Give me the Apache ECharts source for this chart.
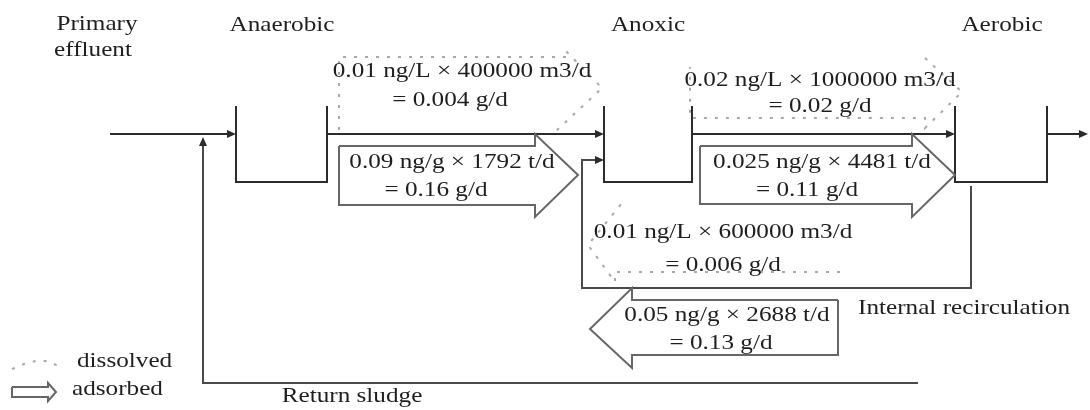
<!DOCTYPE html>
<html>
<head>
<meta charset="utf-8">
<script src="https://cdn.jsdelivr.net/npm/echarts@6/dist/echarts.min.js"></script>
<style>
  html, body { margin: 0; padding: 0; background: #fff; }
  #main { width: 1090px; height: 410px; }
</style>
</head>
<body>
<div id="main"></div>
<script>
// --- data: mass flows of the compound through the A2O line ---
var stages = ['Anaerobic', 'Anoxic', 'Aerobic'];
var dissolvedConc = ['0.01', '0.02', '0.01'];          // ng/L
var waterFlow = ['400000', '1000000', '600000'];       // m3/d
var dissolvedLoad = ['0.004', '0.02', '0.006'];        // g/d
var adsorbedConc = ['0.09', '0.025', '0.05'];          // ng/g
var sludgeFlow = ['1792', '4481', '2688'];             // t/d
var adsorbedLoad = ['0.16', '0.11', '0.13'];           // g/d
var streamNames = ['Primary\neffluent', 'Internal recirculation', 'Return sludge'];
var legendNames = ['dissolved', 'adsorbed'];

// --- layout (pixel space of the hidden axes) ---
var INK = '#2b2b2b', PIPE = '#4a4a4a', GREY = '#666666', LIGHT = '#a8a8a8';
var solid = [
  [[110,134],[232,134]],
  [[236,106],[236,182],[327,182],[327,106]],
  [[604,106],[604,182],[692,182],[692,106]],
  [[955,106],[955,182],[1047,182],[1047,106]],
  [[327,134],[598,134]],
  [[692,134],[949,134]],
  [[1047,134],[1080,134]]
];
var recycle = [
  [[918,383],[203,383],[203,144]],
  [[971,186],[971,288],[582,288],[582,160],[598,160]]
];
var heads = [[236,134,0],[604,134,0],[955,134,0],[1088,134,0],[203,137,-90],[604,160,0]];
var adsorbedShapes = [
  [[339,146],[535,146],[535,134],[578,175],[535,217],[535,205],[339,205],[339,146]],
  [[700,146],[912,146],[912,134],[955,175],[912,217],[912,204],[700,204],[700,146]],
  [[838,300],[632,300],[632,288],[590,329],[632,368],[632,355],[838,355],[838,300]],
  [[12,387],[48,387],[48,383],[56,392],[48,401],[48,397],[12,397],[12,387]]
];
var dissolvedShapes = [
  [[339,130],[339,57],[565,57],[565,50],[602,88],[555,132]],
  [[925,58],[962,92],[925,128],[925,118],[690,118],[690,67]],
  [[840,272],[615,272],[615,282],[588,245],[622,203]],
  [[12,369],[24,364],[36,361],[48,361],[58,366]]
];
var dissolvedText = [[462,71,450,100],[820,80,820,106],[723,232,723,265]];
var adsorbedText = [[452,162,436,190],[822,162,807,190],[727,315,721,343]];
var stageText = [[282,25],[648,25],[1002,25]];

function fmtDissolved(i) {
  return [dissolvedConc[i] + ' ng/L \u00d7 ' + waterFlow[i] + ' m3/d', '= ' + dissolvedLoad[i] + ' g/d'];
}
function fmtAdsorbed(i) {
  return [adsorbedConc[i] + ' ng/g \u00d7 ' + sludgeFlow[i] + ' t/d', '= ' + adsorbedLoad[i] + ' g/d'];
}

var texts = [];
stages.forEach(function (s, i) { texts.push({ t: s, x: stageText[i][0], y: stageText[i][1], a: 'center' }); });
var pe = streamNames[0].split('\n');
texts.push({ t: pe[0], x: 97, y: 24, a: 'center' });
texts.push({ t: pe[1], x: 93, y: 50, a: 'center' });
texts.push({ t: streamNames[1], x: 858, y: 308, a: 'left' });
texts.push({ t: streamNames[2], x: 352, y: 396, a: 'center' });
texts.push({ t: legendNames[0], x: 77, y: 361, a: 'left' });
texts.push({ t: legendNames[1], x: 72, y: 389, a: 'left' });
[0, 1, 2].forEach(function (i) {
  var d = fmtDissolved(i), p = dissolvedText[i];
  texts.push({ t: d[0], x: p[0], y: p[1], a: 'center' });
  texts.push({ t: d[1], x: p[2], y: p[3], a: 'center' });
  var s = fmtAdsorbed(i), q = adsorbedText[i];
  texts.push({ t: s[0], x: q[0], y: q[1], a: 'center' });
  texts.push({ t: s[1], x: q[2], y: q[3], a: 'center' });
});

// one list of drawable items, rendered by a custom series
var items = [];
solid.forEach(function (p) { items.push({ k: 'line', p: p, c: INK, w: 2, dash: null }); });
recycle.forEach(function (p) { items.push({ k: 'line', p: p, c: PIPE, w: 2, dash: null }); });
adsorbedShapes.forEach(function (p) { items.push({ k: 'line', p: p, c: GREY, w: 2, dash: null }); });
dissolvedShapes.forEach(function (p) { items.push({ k: 'line', p: p, c: LIGHT, w: 2, dash: [3, 8] }); });
heads.forEach(function (h) { items.push({ k: 'head', h: h }); });
texts.forEach(function (t) { items.push({ k: 'text', t: t }); });

function renderItem(params, api) {
  var it = items[params.dataIndex];
  if (it.k === 'line') {
    return {
      type: 'polyline',
      shape: { points: it.p.map(function (pt) { return api.coord(pt); }) },
      style: { stroke: it.c, lineWidth: it.w, lineDash: it.dash, fill: null }
    };
  }
  if (it.k === 'head') {
    var tip = api.coord([it.h[0], it.h[1]]);
    var a = it.h[2] * Math.PI / 180, L = 9, W = 4;
    var bx = tip[0] - L * Math.cos(a), by = tip[1] - L * Math.sin(a);
    return {
      type: 'polygon',
      shape: { points: [tip, [bx - W * Math.sin(a), by + W * Math.cos(a)], [bx + W * Math.sin(a), by - W * Math.cos(a)]] },
      style: { fill: INK }
    };
  }
  var c = api.coord([it.t.x, it.t.y]);
  return {
    type: 'text',
    x: c[0], y: c[1],
    scaleX: 1.2,
    style: {
      text: it.t.t, fill: '#1e1e1e',
      font: '21px "Liberation Serif", "DejaVu Serif", serif',
      align: it.t.a, verticalAlign: 'middle'
    }
  };
}

var chart = echarts.init(document.getElementById('main'), null, { renderer: 'canvas' });
chart.setOption({
  animation: false,
  backgroundColor: '#ffffff',
  grid: { left: 0, right: 0, top: 0, bottom: 0 },
  xAxis: { type: 'value', min: 0, max: 1090, show: false },
  yAxis: { type: 'value', min: 0, max: 410, inverse: true, show: false },
  series: [{
    type: 'custom',
    renderItem: renderItem,
    data: items.map(function (_, i) { return [i]; }),
    clip: false
  }]
});
</script>
</body>
</html>
